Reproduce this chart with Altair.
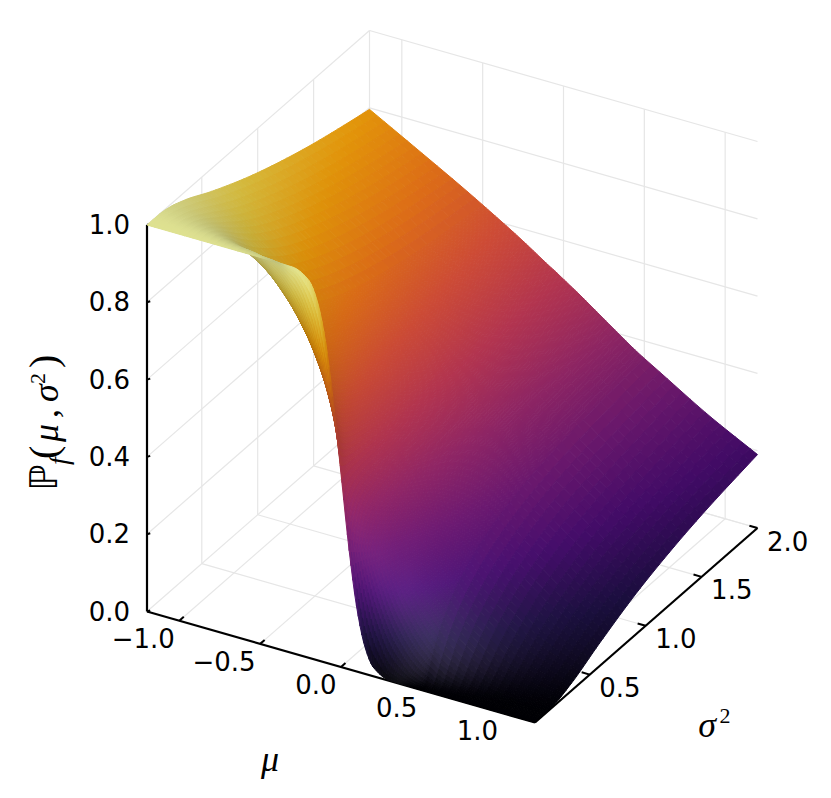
import numpy as np
import pandas as pd
import altair as alt

# Values
MU = [-1.2, -0.9, -0.6, -0.45, -0.3, -0.2, -0.15, -0.1, -0.05, 0, 0.05, 0.1, 0.15, 0.2, 0.3, 0.45, 0.6, 0.9, 1.2]
S2 = [0.01, 0.02, 0.04, 0.07, 0.12, 0.2, 0.35, 0.6, 1.0, 1.5, 2.0]
P_001 = [1, 1, 1, 1, .999, .977, .933, .841, .691, .5, .309, .159, .067, .023, .001, 0, 0, 0, 0]
P_002 = [1, 1, 1, .999, .983, .921, .856, .760, .638, .5, .362, .240, .144, .079, .017, .001, 0, 0, 0]
P_004 = [1, 1, .999, .988, .933, .841, .773, .691, .599, .5, .401, .309, .227, .159, .067, .012, .001, 0, 0]
P_007 = [1, 1, .988, .955, .872, .775, .715, .647, .575, .5, .425, .353, .285, .225, .128, .045, .012, 0, 0]
P_012 = [1, .995, .958, .903, .807, .718, .668, .614, .557, .5, .443, .386, .332, .282, .193, .097, .042, .005, 0]
P_020 = [.996, .978, .910, .843, .749, .673, .631, .589, .545, .5, .455, .411, .369, .327, .251, .157, .090, .022, .004]
P_035 = [.979, .936, .845, .777, .694, .632, .600, .567, .534, .5, .466, .433, .400, .368, .306, .223, .155, .064, .021]
P_060 = [.939, .877, .781, .719, .651, .602, .577, .551, .526, .5, .474, .449, .423, .398, .349, .281, .219, .123, .061]
P_100 = [.885, .816, .726, .674, .618, .579, .560, .540, .520, .5, .480, .460, .440, .421, .382, .326, .274, .184, .115]
P_150 = [.834, .764, .684, .640, .595, .564, .548, .532, .516, .5, .484, .467, .451, .434, .401, .353, .307, .226, .160]
P_200 = [.796, .727, .657, .620, .582, .555, .541, .527, .514, .5, .486, .472, .457, .442, .412, .368, .330, .255, .190]
TABLE = [P_001, P_002, P_004, P_007, P_012, P_020, P_035, P_060, P_100, P_150, P_200]

MU_TICKS = [-1.0, -0.5, 0.0, 0.5, 1.0]
MU_LABELS = ["\u22121.0", "\u22120.5", "0.0", "0.5", "1.0"]
S_TICKS = [0.5, 1.0, 1.5, 2.0]
S_LABELS = ["0.5", "1.0", "1.5", "2.0"]
Z_TICKS = [0.0, 0.2, 0.4, 0.6, 0.8, 1.0]
Z_LABELS = ["0.0", "0.2", "0.4", "0.6", "0.8", "1.0"]
INFERNO = ["#000004", "#160b39", "#420a68", "#6a176e", "#932667", "#bc3754",
           "#dd513a", "#f37819", "#fca50a", "#f6d746", "#fcffa4"]

W, H = 815, 782
MU0, MU1, S0, S1 = -1.2, 1.2, 0.01, 2.0
VIEW = np.array([0.572, -1.0, 0.671]); VIEW = VIEW / np.linalg.norm(VIEW)


def proj(mu, s, z):
    """3-D axes to page pixels (page margin removed)."""
    a = (np.asarray(mu) - MU0) / (MU1 - MU0)
    b = (np.asarray(s) - S0) / (S1 - S0)
    return (147 + 388 * a + 222.5 * b - 8,
            611.5 + 111 * a - 194.5 * b - 386.5 * np.asarray(z) - 8)


def pchip(x, y, q):
    x, y = np.asarray(x, float), np.asarray(y, float)
    h = np.diff(x); d = np.diff(y) / h
    m = np.zeros_like(y); m[0], m[-1] = d[0], d[-1]
    for i in range(1, len(x) - 1):
        if d[i - 1] * d[i] > 0:
            w1, w2 = 2 * h[i] + h[i - 1], h[i] + 2 * h[i - 1]
            m[i] = (w1 + w2) / (w1 / d[i - 1] + w2 / d[i])
    i = np.clip(np.searchsorted(x, q) - 1, 0, len(h) - 1)
    t = (q - x[i]) / h[i]
    return ((2 * t**3 - 3 * t**2 + 1) * y[i] + (t**3 - 2 * t**2 + t) * h[i] * m[i]
            + (-2 * t**3 + 3 * t**2) * y[i + 1] + (t**3 - t**2) * h[i] * m[i + 1])


def soften(a, passes=20):
    for _ in range(passes):
        p = np.pad(a, 1, mode="edge")
        a = (p[:-2, 1:-1] + p[2:, 1:-1] + p[1:-1, :-2] + p[1:-1, 2:] + 4 * a) / 8
    return a


# Tessellate the read table finely so that the shading is smooth
fm = np.unique(np.r_[np.linspace(-1.2, -0.5, 16), np.linspace(-0.5, 0.5, 90), np.linspace(0.5, 1.2, 16)])
fr = np.linspace(np.sqrt(S0), np.sqrt(S1), 64)
fs = fr**2
by_mu = np.array([pchip(MU, row, fm) for row in TABLE])
Z = np.array([pchip(np.sqrt(S2), by_mu[:, j], fr) for j in range(len(fm))]).T
Z = np.clip(Z, 0, 1)

X = fm / (MU1 - MU0)
Y = fs / (S1 - S0)
dzx = np.gradient(Z, X, axis=1)
dzy = np.gradient(Z, Y, axis=0)
nlen = np.sqrt(dzx**2 + dzy**2 + 1)
nv = soften(np.abs((-dzx * VIEW[0] - dzy * VIEW[1] + VIEW[2]) / nlen))

stops = np.array([[int(c[i:i + 2], 16) for i in (1, 3, 5)] for c in INFERNO], float) / 255
pos = np.linspace(0, 1, len(INFERNO))
base = np.stack([np.interp(Z, pos, stops[:, k]) for k in range(3)], axis=-1)
RGB = base * (0.68 + 0.40 * nv)[..., None] + 0.16 * (nv**12)[..., None]
RGB = np.clip(RGB, 0, 1)
px, py = proj(fm[None, :], fs[:, None], Z)

features = []
for j in range(len(fm) - 1):            # far to near
    for i in range(len(fs) - 2, -1, -1):
        c = (RGB[i, j] + RGB[i + 1, j] + RGB[i, j + 1] + RGB[i + 1, j + 1]) / 4
        ring = [[round(float(px[a, b]), 2), round(float(py[a, b]), 2)]
                for a, b in ((i, j), (i, j + 1), (i + 1, j + 1), (i + 1, j), (i, j))]
        features.append({"type": "Feature", "geometry": {"type": "Polygon", "coordinates": [ring]},
                         "properties": {"c": "#%02x%02x%02x" % tuple(int(round(v * 255)) for v in c)}})

XS = alt.Scale(domain=[0, W], nice=False, zero=False)
YS = alt.Scale(domain=[H, 0], nice=False, zero=False)


def segs(rows):
    out = []
    for (a, b) in rows:
        x, y = proj(*a); x2, y2 = proj(*b)
        out.append({"x": float(x), "y": float(y), "x2": float(x2), "y2": float(y2)})
    return pd.DataFrame(out)


def rules(rows, color, width):
    return alt.Chart(segs(rows)).mark_rule(color=color, strokeWidth=width).encode(
        x=alt.X("x:Q", scale=XS, axis=None), y=alt.Y("y:Q", scale=YS, axis=None),
        x2="x2:Q", y2="y2:Q")


def text(rows, size=26, font="DejaVu Sans", style="normal", align="center", angle=0):
    df = pd.DataFrame([{"x": x - 8, "y": y - 8, "t": t} for x, y, t in rows])
    return alt.Chart(df).mark_text(fontSize=size, font=font, fontStyle=style, align=align,
                                   baseline="middle", angle=angle, color="black").encode(
        x=alt.X("x:Q", scale=XS, axis=None), y=alt.Y("y:Q", scale=YS, axis=None), text="t:N")


grid_rows = []
for z in Z_TICKS:
    grid_rows += [((MU0, S0, z), (MU0, S1, z)), ((MU0, S1, z), (MU1, S1, z))]
for m in MU_TICKS:
    grid_rows += [((m, S0, 0), (m, S1, 0)), ((m, S1, 0), (m, S1, 1))]
for s in S_TICKS:
    grid_rows += [((MU0, s, 0), (MU1, s, 0)), ((MU0, s, 0), (MU0, s, 1))]

axis_rows = [((MU0, S0, 0), (MU0, S0, 1)), ((MU0, S0, 0), (MU1, S0, 0)), ((MU1, S0, 0), (MU1, S1, 0))]
tick_rows = []
for z in Z_TICKS:
    tick_rows.append(((MU0, S0, z), (MU0 + 0.02, S0, z + 0.005)))
for m in MU_TICKS:
    tick_rows.append(((m, S0, 0), (m, S0 + 0.04, 0)))
for s in S_TICKS:
    tick_rows.append(((MU1, s, 0), (MU1 - 0.05, s, 0)))

mu_lab, s_lab, z_lab = [], [], []
for m, l in zip(MU_TICKS, MU_LABELS):
    x, y = proj(m, S0, 0)
    mu_lab.append((float(x) + 8 - 4.5, float(y) + 8 + 19, l))
for s, l in zip(S_TICKS, S_LABELS):
    x, y = proj(MU1, s, 0)
    s_lab.append((float(x) + 8 + 9.5, float(y) + 8 + 14.5, l))
for z, l in zip(Z_TICKS, Z_LABELS):
    x, y = proj(MU0, S0, z)
    z_lab.append((float(x) + 8 - 17, float(y) + 8 + 1, l))

surface = alt.Chart(alt.Data(values=features)).mark_geoshape(strokeWidth=1.0).encode(
    fill=alt.Fill("properties.c:N", scale=None),
    stroke=alt.Stroke("properties.c:N", scale=None),
).project(type="identity", scale=1, translate=[0, 0])

chart = alt.layer(
    rules(grid_rows, "#e6e6e6", 1.2),
    rules(axis_rows, "black", 2.2),
    rules(tick_rows, "black", 2),
    surface,
    text(mu_lab, align="right"),
    text(s_lab, align="left"),
    text(z_lab, align="right"),
    text([(270, 760, "\u03bc")], size=36, font="Liberation Serif", style="italic"),
    text([(707, 726, "\u03c3")], size=36, font="Liberation Serif", style="italic"),
    text([(725, 716, "2")], size=22, font="Liberation Serif"),
    text([(46, 491, "\u2119")], size=38, align="left", angle=270),
    text([(60, 465, "f")], size=28, font="Liberation Serif", style="italic", align="left", angle=270),
    text([(45, 459, "(")], size=40, font="Liberation Serif", align="left", angle=270),
    text([(47, 442, "\u03bc")], size=36, font="Liberation Serif", style="italic", align="left", angle=270),
    text([(47, 418, ",")], size=36, font="Liberation Serif", align="left", angle=270),
    text([(47, 402, "\u03c3")], size=36, font="Liberation Serif", style="italic", align="left", angle=270),
    text([(38, 384, "2")], size=22, font="Liberation Serif", align="left", angle=270),
    text([(45, 368, ")")], size=40, font="Liberation Serif", align="left", angle=270),
).resolve_scale(x="shared", y="shared").properties(
    width=W, height=H, padding=0, background="white",
    autosize=alt.AutoSizeParams(type="none"),
).configure_view(stroke=None)

chart.save("out.html", embed_options={"renderer": "svg", "actions": False})
